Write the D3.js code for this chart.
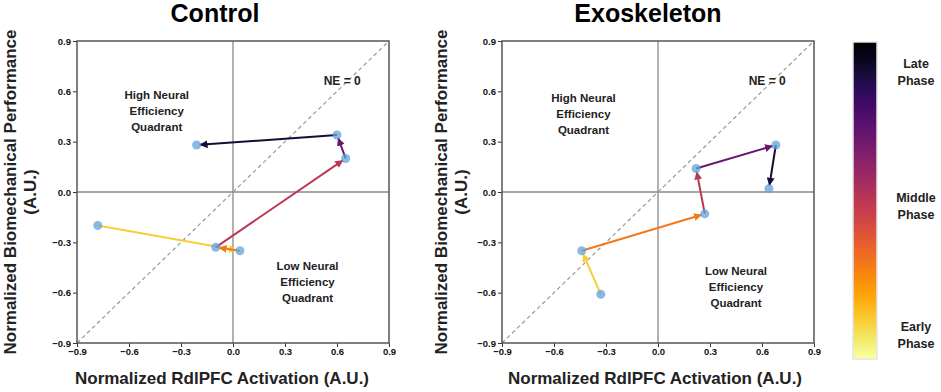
<!DOCTYPE html>
<html>
  <head>
    <meta charset="UTF-8" />
    <script src="https://d3js.org/d3.v7.min.js"></script>
    <style>
      body { margin: 0; background: #fff; }
      text { font-family: "Liberation Sans", Arial, sans-serif; font-weight: bold; }
    </style>
  </head>
  <body>
    <div id="my_dataviz"></div>

    <script>
      // ---- data ----
      var panels = ["Control", "Exoskeleton"];
      var controlX = [-0.78, 0.04, -0.1, 0.65, 0.6, -0.21];
      var controlY = [-0.2, -0.35, -0.33, 0.2, 0.34, 0.28];
      var exoX = [-0.33, -0.44, 0.27, 0.22, 0.68, 0.64];
      var exoY = [-0.61, -0.35, -0.13, 0.14, 0.28, 0.02];
      // phase value (0 = late / dark, 1 = early / light) of each step
      var stepPhase = [0.88, 0.7, 0.5, 0.3, 0.1];
      var ticks = [-0.9, -0.6, -0.3, 0.0, 0.3, 0.6, 0.9];
      var phaseLabels = [["Late", "Phase"], ["Middle", "Phase"], ["Early", "Phase"]];
      var highLabel = ["High Neural", "Efficiency", "Quadrant"];
      var lowLabel = ["Low Neural", "Efficiency", "Quadrant"];

      var width = 941, height = 392;

      var svg = d3
        .select("#my_dataviz")
        .append("svg")
        .attr("width", width)
        .attr("height", height);

      var defs = svg.append("defs");

      // layout of the two panels (pixel boxes)
      var boxes = [
        { left: 77, right: 389, top: 41, bottom: 343, ylab: 10, titleX: 215, xlabX: 222,
          high: [-0.44, 0.58], low: [0.43, -0.44], ne: [0.63, 0.66] },
        { left: 502, right: 814, top: 41, bottom: 343, ylab: 441, titleX: 648, xlabX: 655,
          high: [-0.43, 0.56], low: [0.45, -0.47], ne: [0.63, 0.66] }
      ];
      var series = [
        { x: controlX, y: controlY },
        { x: exoX, y: exoY }
      ];

      stepPhase.forEach(function (p, i) {
        defs
          .append("marker")
          .attr("id", "head" + i)
          .attr("viewBox", "0 0 10 10")
          .attr("refX", 10)
          .attr("refY", 5)
          .attr("markerWidth", 4)
          .attr("markerHeight", 4)
          .attr("markerUnits", "strokeWidth")
          .attr("orient", "auto")
          .append("path")
          .attr("d", "M0,0 L10,5 L0,10 z")
          .attr("fill", d3.interpolateInferno(p));
      });

      var fmt = function (d) {
        return d3.format(".1f")(d).replace("-", "\u2212");
      };

      panels.forEach(function (name, k) {
        var b = boxes[k];
        var xScale = d3.scaleLinear().domain([-0.9, 0.9]).range([b.left, b.right]);
        var yScale = d3.scaleLinear().domain([-0.9, 0.9]).range([b.bottom, b.top]);
        var g = svg.append("g");

        // title
        g.append("text")
          .attr("x", b.titleX)
          .attr("y", 22)
          .attr("text-anchor", "middle")
          .attr("font-size", 25)
          .text(name);

        // zero lines
        g.append("line")
          .attr("x1", xScale(0)).attr("x2", xScale(0))
          .attr("y1", b.top).attr("y2", b.bottom)
          .attr("stroke", "#888").attr("stroke-width", 1.3);
        g.append("line")
          .attr("x1", b.left).attr("x2", b.right)
          .attr("y1", yScale(0)).attr("y2", yScale(0))
          .attr("stroke", "#888").attr("stroke-width", 1.3);

        // NE = 0 diagonal
        g.append("line")
          .attr("x1", xScale(-0.9)).attr("y1", yScale(-0.9))
          .attr("x2", xScale(0.9)).attr("y2", yScale(0.9))
          .attr("stroke", "#999").attr("stroke-width", 1.2)
          .attr("stroke-dasharray", "4,3");

        // axes
        var xAxis = g.append("g")
          .attr("transform", "translate(0," + b.bottom + ")")
          .call(d3.axisBottom(xScale).tickValues(ticks).tickFormat(fmt).tickSize(4).tickPadding(1));
        var yAxis = g.append("g")
          .attr("transform", "translate(" + b.left + ",0)")
          .call(d3.axisLeft(yScale).tickValues(ticks).tickFormat(fmt).tickSize(4).tickPadding(2));
        [xAxis, yAxis].forEach(function (a) {
          a.select(".domain").remove();
          a.selectAll("line").attr("stroke", "#333");
          a.selectAll("text").attr("font-size", 9.5).attr("fill", "#111")
            .style("font-family", "Liberation Sans, Arial, sans-serif").style("font-weight", "bold");
        });

        // frame
        g.append("rect")
          .attr("x", b.left).attr("y", b.top)
          .attr("width", b.right - b.left).attr("height", b.bottom - b.top)
          .attr("fill", "none").attr("stroke", "#555").attr("stroke-width", 1.5);

        // axis labels
        g.append("text")
          .attr("x", b.xlabX)
          .attr("y", 384)
          .attr("text-anchor", "middle")
          .attr("font-size", 17)
          .attr("fill", "#222")
          .text("Normalized RdlPFC Activation (A.U.)");
        var yl = g.append("text")
          .attr("transform", "translate(" + b.ylab + "," + 192 + ") rotate(-90)")
          .attr("text-anchor", "middle")
          .attr("font-size", 17)
          .attr("fill", "#222");
        yl.append("tspan").attr("x", 0).attr("dy", "0.35em").text("Normalized Biomechanical Performance");
        yl.append("tspan").attr("x", 0).attr("dy", "1.2em").text("(A.U.)");

        // quadrant labels
        [[highLabel, b.high], [lowLabel, b.low]].forEach(function (q) {
          q[0].forEach(function (line, j) {
            g.append("text")
              .attr("x", xScale(q[1][0]))
              .attr("y", yScale(q[1][1]) + 4 + j * 16)
              .attr("text-anchor", "middle")
              .attr("font-size", 11.5)
              .attr("fill", "#222")
              .text(line);
          });
        });
        g.append("text")
          .attr("x", xScale(b.ne[0]))
          .attr("y", yScale(b.ne[1]) + 4)
          .attr("text-anchor", "middle")
          .attr("font-size", 12)
          .attr("fill", "#222")
          .text("NE = 0");

        // arrows
        var s = series[k];
        var pts = s.x.map(function (v, i) { return [xScale(v), yScale(s.y[i])]; });
        for (var i = 0; i < pts.length - 1; i++) {
          var p0 = pts[i], p1 = pts[i + 1];
          var dx = p1[0] - p0[0], dy = p1[1] - p0[1];
          var len = Math.sqrt(dx * dx + dy * dy);
          var shrink = 3 / len;
          g.append("line")
            .attr("x1", p0[0]).attr("y1", p0[1])
            .attr("x2", p1[0] - dx * shrink).attr("y2", p1[1] - dy * shrink)
            .attr("stroke", d3.interpolateInferno(stepPhase[i]))
            .attr("stroke-width", 2)
            .attr("marker-end", "url(#head" + i + ")");
        }

        // points
        g.selectAll("circle")
          .data(pts)
          .join("circle")
          .attr("cx", function (d) { return d[0]; })
          .attr("cy", function (d) { return d[1]; })
          .attr("r", 4.5)
          .attr("fill", "#5fa4dc")
          .attr("fill-opacity", 0.75);
      });

      // colour bar
      var cb = { x: 853, w: 24, top: 42, bottom: 359 };
      var grad = defs.append("linearGradient")
        .attr("id", "cbar")
        .attr("x1", 0).attr("y1", 0).attr("x2", 0).attr("y2", 1);
      d3.range(0, 1.0001, 0.05).forEach(function (t) {
        grad.append("stop")
          .attr("offset", t)
          .attr("stop-color", d3.interpolateInferno(t));
      });
      svg.append("rect")
        .attr("x", cb.x).attr("y", cb.top)
        .attr("width", cb.w).attr("height", cb.bottom - cb.top)
        .attr("fill", "url(#cbar)")
        .attr("stroke", "#e4e4e4").attr("stroke-width", 1.5);

      var phaseY = [63, 197, 326];
      phaseLabels.forEach(function (lines, i) {
        lines.forEach(function (line, j) {
          svg.append("text")
            .attr("x", 916)
            .attr("y", phaseY[i] + 5 + j * 17)
            .attr("text-anchor", "middle")
            .attr("font-size", 12.5)
            .attr("fill", "#222")
            .text(line);
        });
      });
    </script>
  </body>
</html>
